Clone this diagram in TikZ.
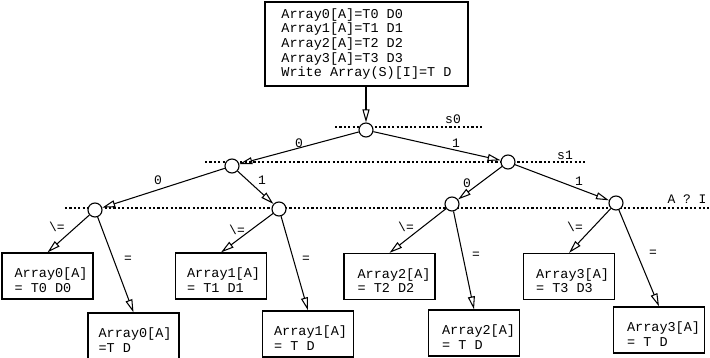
\documentclass[tikz,border=0pt]{standalone}
\usepackage{fontspec}
\newfontfamily\cour{Liberation Mono}
\usetikzlibrary{arrows.meta}
\begin{document}
\begin{tikzpicture}[x=1pt,y=-1pt,
  every node/.style={font=\cour\fontsize{13.5}{14.6}\selectfont},
  decision/.style={circle, draw, fill=white, minimum size=14pt, inner sep=0pt, line width=1.1pt},
  leafbox/.style={draw, line width=1.2pt, minimum width=91pt, minimum height=46pt, inner sep=0pt},
  leaftext/.style={anchor=west, align=left, inner sep=0pt},
  topbox/.style={draw, line width=2.6pt, minimum width=203pt, minimum height=84pt, align=left, inner xsep=14pt},
  arr/.style={line width=1.05pt, -{Triangle[open, length=13pt, width=7pt]}},
  lvl/.style={line width=1.2pt, dash pattern=on 2.2pt off 2.2pt},
  lbl/.style={inner sep=0pt, font=\cour\fontsize{13}{14}\selectfont}
]
\useasboundingbox (0,0) rectangle (710,358);

% register the level lines (behind the decision nodes)
\draw[lvl] (335,127) -- (483,127);
\draw[lvl] (205,162) -- (585,162);
\draw[lvl] (65,208) -- (709,208);
\node[lbl] (ls0) at (453,119) {s0};
\node[lbl] (ls1) at (565,155) {s1};
\node[lbl] (lai) at (687,199) {A ? I};

% write request
\node[topbox] (top) at (366.5,44) {Array0[A]=T0 D0\\Array1[A]=T1 D1\\Array2[A]=T2 D2\\Array3[A]=T3 D3\\Write Array(S)[I]=T D};

% decision tree
\node[decision] (root) at (366,130) {};
\node[decision] (n0) at (232,166) {};
\node[decision] (n1) at (508,162) {};
\node[decision] (n00) at (95,210) {};
\node[decision] (n01) at (279,209) {};
\node[decision] (n10) at (452,204) {};
\node[decision] (n11) at (616,203) {};

% leaves: mismatch
\node[leafbox] (b0) at (47.5,276) {};
\node[leafbox] (b1) at (221,276) {};
\node[leafbox] (b2) at (389.5,276.5) {};
\node[leafbox] (b3) at (569,276.5) {};
% leaves: match
\node[leafbox] (c0) at (133.5,336) {};
\node[leafbox] (c1) at (308,334) {};
\node[leafbox] (c2) at (474,333) {};
\node[leafbox] (c3) at (659,330) {};

\node[leaftext] (tb0) at ([xshift=13pt,yshift=-4pt]b0.west) {Array0[A]\\= T0 D0};
\node[leaftext] (tb1) at ([xshift=12pt,yshift=-4pt]b1.west) {Array1[A]\\= T1 D1};
\node[leaftext] (tb2) at ([xshift=14pt,yshift=-4pt]b2.west) {Array2[A]\\= T2 D2};
\node[leaftext] (tb3) at ([xshift=13pt,yshift=-4pt]b3.west) {Array3[A]\\= T3 D3};
\node[leaftext] (tc0) at ([xshift=11pt,yshift=-4pt]c0.west) {Array0[A]\\=T D};
\node[leaftext] (tc1) at ([xshift=12pt,yshift=-4pt]c1.west) {Array1[A]\\= T D};
\node[leaftext] (tc2) at ([xshift=14pt,yshift=-4pt]c2.west) {Array2[A]\\= T D};
\node[leaftext] (tc3) at ([xshift=14pt,yshift=-4pt]c3.west) {Array3[A]\\= T D};

% connectors
\draw[arr] (top.south -| root) -- (root);
\draw[arr] (root) -- (n0);
\draw[arr] (root) -- (n1);
\draw[arr] (n0) -- (n00);
\draw[arr] (n0) -- (n01);
\draw[arr] (n1) -- (n10);
\draw[arr] (n1) -- (n11);
\draw[arr] (n00) -- (b0.north);
\draw[arr] (n00) -- (c0.north);
\draw[arr] (n01) -- (b1.north);
\draw[arr] (n01) -- (c1.north);
\draw[arr] (n10) -- (b2.north);
\draw[arr] (n10) -- (c2.north);
\draw[arr] (n11) -- (b3.north);
\draw[arr] (n11) -- (c3.north);

% edge labels
\node[lbl] (e1) at (299,143) {0};
\node[lbl] (e2) at (456,143) {1};
\node[lbl] (e3) at (158,180) {0};
\node[lbl] (e4) at (262,180) {1};
\node[lbl] (e5) at (467,183) {0};
\node[lbl] (e6) at (579,181) {1};
\node[lbl] (ne0) at (57,227) {\symbol{92}=};
\node[lbl] (ne1) at (237,230) {\symbol{92}=};
\node[lbl] (ne2) at (406,227) {\symbol{92}=};
\node[lbl] (ne3) at (575,227) {\symbol{92}=};
\node[lbl] (eq0) at (128,259) {=};
\node[lbl] (eq1) at (306,259) {=};
\node[lbl] (eq2) at (476,255) {=};
\node[lbl] (eq3) at (653,253) {=};
\end{tikzpicture}
\end{document}
